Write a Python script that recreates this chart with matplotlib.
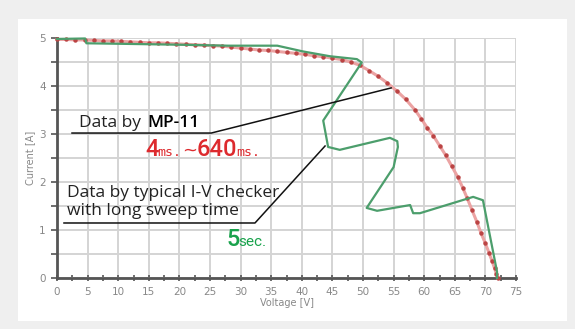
import matplotlib
matplotlib.use("Agg")
import matplotlib.pyplot as plt
from matplotlib.patches import Rectangle

# ---- data ----
mp11_v = [0, 1.5, 3, 4.5, 6, 7.5, 9, 10.5, 12, 13.5, 15, 16.5, 18, 19.5, 21, 22.5,
          24, 25.5, 27, 28.5, 30, 31.5, 33, 34.5, 36, 37.5, 39, 40.5, 42, 43.5, 45,
          46.5, 48, 49.5, 51, 52.5, 54, 55.5, 57, 58.5, 59.5, 60.5, 61.5, 62.5, 63.5,
          64.5, 65.5, 66.3, 67, 67.8, 68.6, 69.3, 70, 70.6, 71.1, 71.5, 71.8, 72]
mp11_i = [4.97, 4.97, 4.96, 4.96, 4.95, 4.94, 4.94, 4.93, 4.92, 4.91, 4.90, 4.90,
          4.89, 4.88, 4.87, 4.86, 4.85, 4.84, 4.83, 4.81, 4.79, 4.77, 4.75, 4.74,
          4.72, 4.70, 4.68, 4.66, 4.63, 4.61, 4.58, 4.55, 4.50, 4.43, 4.32, 4.20,
          4.06, 3.90, 3.72, 3.50, 3.32, 3.13, 2.96, 2.76, 2.56, 2.33, 2.10, 1.88,
          1.67, 1.42, 1.17, 0.93, 0.72, 0.52, 0.35, 0.20, 0.08, 0.0]

typ_v = [0, 4.6, 4.8, 10, 20, 28, 36, 40.2, 44.6, 49, 49.8, 43.5, 44.3, 46.2, 54.4,
         55.6, 55.7, 55.0, 50.6, 52.3, 57.7, 58.2, 59.3, 68, 69.6, 71.9, 71.9]
typ_i = [4.98, 4.99, 4.89, 4.88, 4.86, 4.84, 4.84, 4.72, 4.62, 4.56, 4.49, 3.28,
         2.73, 2.67, 2.92, 2.85, 2.73, 2.31, 1.46, 1.40, 1.52, 1.35, 1.35, 1.69,
         1.62, 0.13, 0.0]

x_ticks = [0, 5, 10, 15, 20, 25, 30, 35, 40, 45, 50, 55, 60, 65, 70, 75]
y_ticks = [0, 1, 2, 3, 4, 5]

W, H = 575, 329
fig = plt.figure(figsize=(W / 100, H / 100), dpi=100)
fig.patch.set_facecolor("#efefef")
fig.patches.append(Rectangle((18 / W, 1 - 321 / H), (567 - 18) / W, (321 - 19) / H,
                             transform=fig.transFigure, facecolor="white",
                             edgecolor="none", zorder=-10))

ax = fig.add_axes([57 / W, 1 - 278 / H, 459 / W, 240 / H])
ax.set_facecolor("white")
ax.set_xlim(0, 75)
ax.set_ylim(0, 5)

ax.set_xticks(x_ticks)
ax.set_xticks([t + 2.5 for t in x_ticks[:-1]], minor=True)
ax.set_yticks(y_ticks)
ax.set_yticks([t + 0.5 for t in y_ticks[:-1]], minor=True)
ax.grid(True, which="major", axis="x", color="#d4d4d4", lw=1.4)
ax.grid(True, which="both", axis="y", color="#d4d4d4", lw=1.4)
ax.set_axisbelow(True)
for s in ["top", "right"]:
    ax.spines[s].set_visible(False)
for s in ["left", "bottom"]:
    ax.spines[s].set_color("#555555")
    ax.spines[s].set_linewidth(2)
ax.tick_params(axis="x", which="both", direction="inout", length=5, width=1.2,
               color="#555555", labelsize=7.5, labelcolor="#888888", pad=4)
ax.tick_params(axis="y", which="both", direction="out", length=4, width=1.2,
               color="#555555", labelsize=7.5, labelcolor="#888888", pad=4)
ax.set_xlabel("Voltage [V]", fontsize=7, color="#888888", labelpad=1)
ax.set_ylabel("Current [A]", fontsize=7, color="#888888", labelpad=3)

# curves
ax.plot(mp11_v, mp11_i, color="#eba3a3", lw=2.2, zorder=3, clip_on=False)
ax.plot(mp11_v, mp11_i, linestyle="none", marker="o", ms=2.2,
        color="#bb4444", zorder=4, clip_on=False)
ax.plot(typ_v, typ_i, color="#4c9e6c", lw=1.6, zorder=5, clip_on=False)

# annotation leader lines
ax.plot([2.45, 25.2, 54.6], [3.02, 3.02, 3.96], color="#111111", lw=1.1, zorder=6)
ax.plot([1.14, 32.35, 43.8], [1.146, 1.146, 2.75], color="#111111", lw=1.1, zorder=6)

def ftxt(x, y, s, **kw):
    fig.text(x / W, 1 - y / H, s, ha="left", va="baseline", **kw)

ftxt(79, 127, "Data by ", fontsize=12.5, family="Open Sans", color="#222222")
ftxt(147, 127, "MP-11", fontsize=12.5, family="Open Sans", color="#000000",
     fontweight="semibold")

red = "#dd2a2e"
ftxt(145, 156, "4", fontsize=17, family="Roboto", color=red, fontweight="medium")
ftxt(157, 156, "ms.", fontsize=9.5, family="DejaVu Sans Mono", color=red)
ftxt(182, 156, "~", fontsize=13, family="DejaVu Sans", color=red)
ftxt(197, 156, "640", fontsize=17, family="Roboto", color=red, fontweight="medium")
ftxt(236, 156, "ms.", fontsize=9.5, family="DejaVu Sans Mono", color=red)

ftxt(67, 197, "Data by typical I-V checker", fontsize=12.5, family="Open Sans",
     color="#222222")
ftxt(67, 215, "with long sweep time", fontsize=12.5, family="Open Sans",
     color="#222222")

green = "#19a24c"
ftxt(226, 246, "5", fontsize=17, family="Roboto", color=green, fontweight="medium")
ftxt(238, 246, "sec.", fontsize=11, family="Roboto", color=green)

fig.savefig("out.png", dpi=100, facecolor=fig.get_facecolor())
